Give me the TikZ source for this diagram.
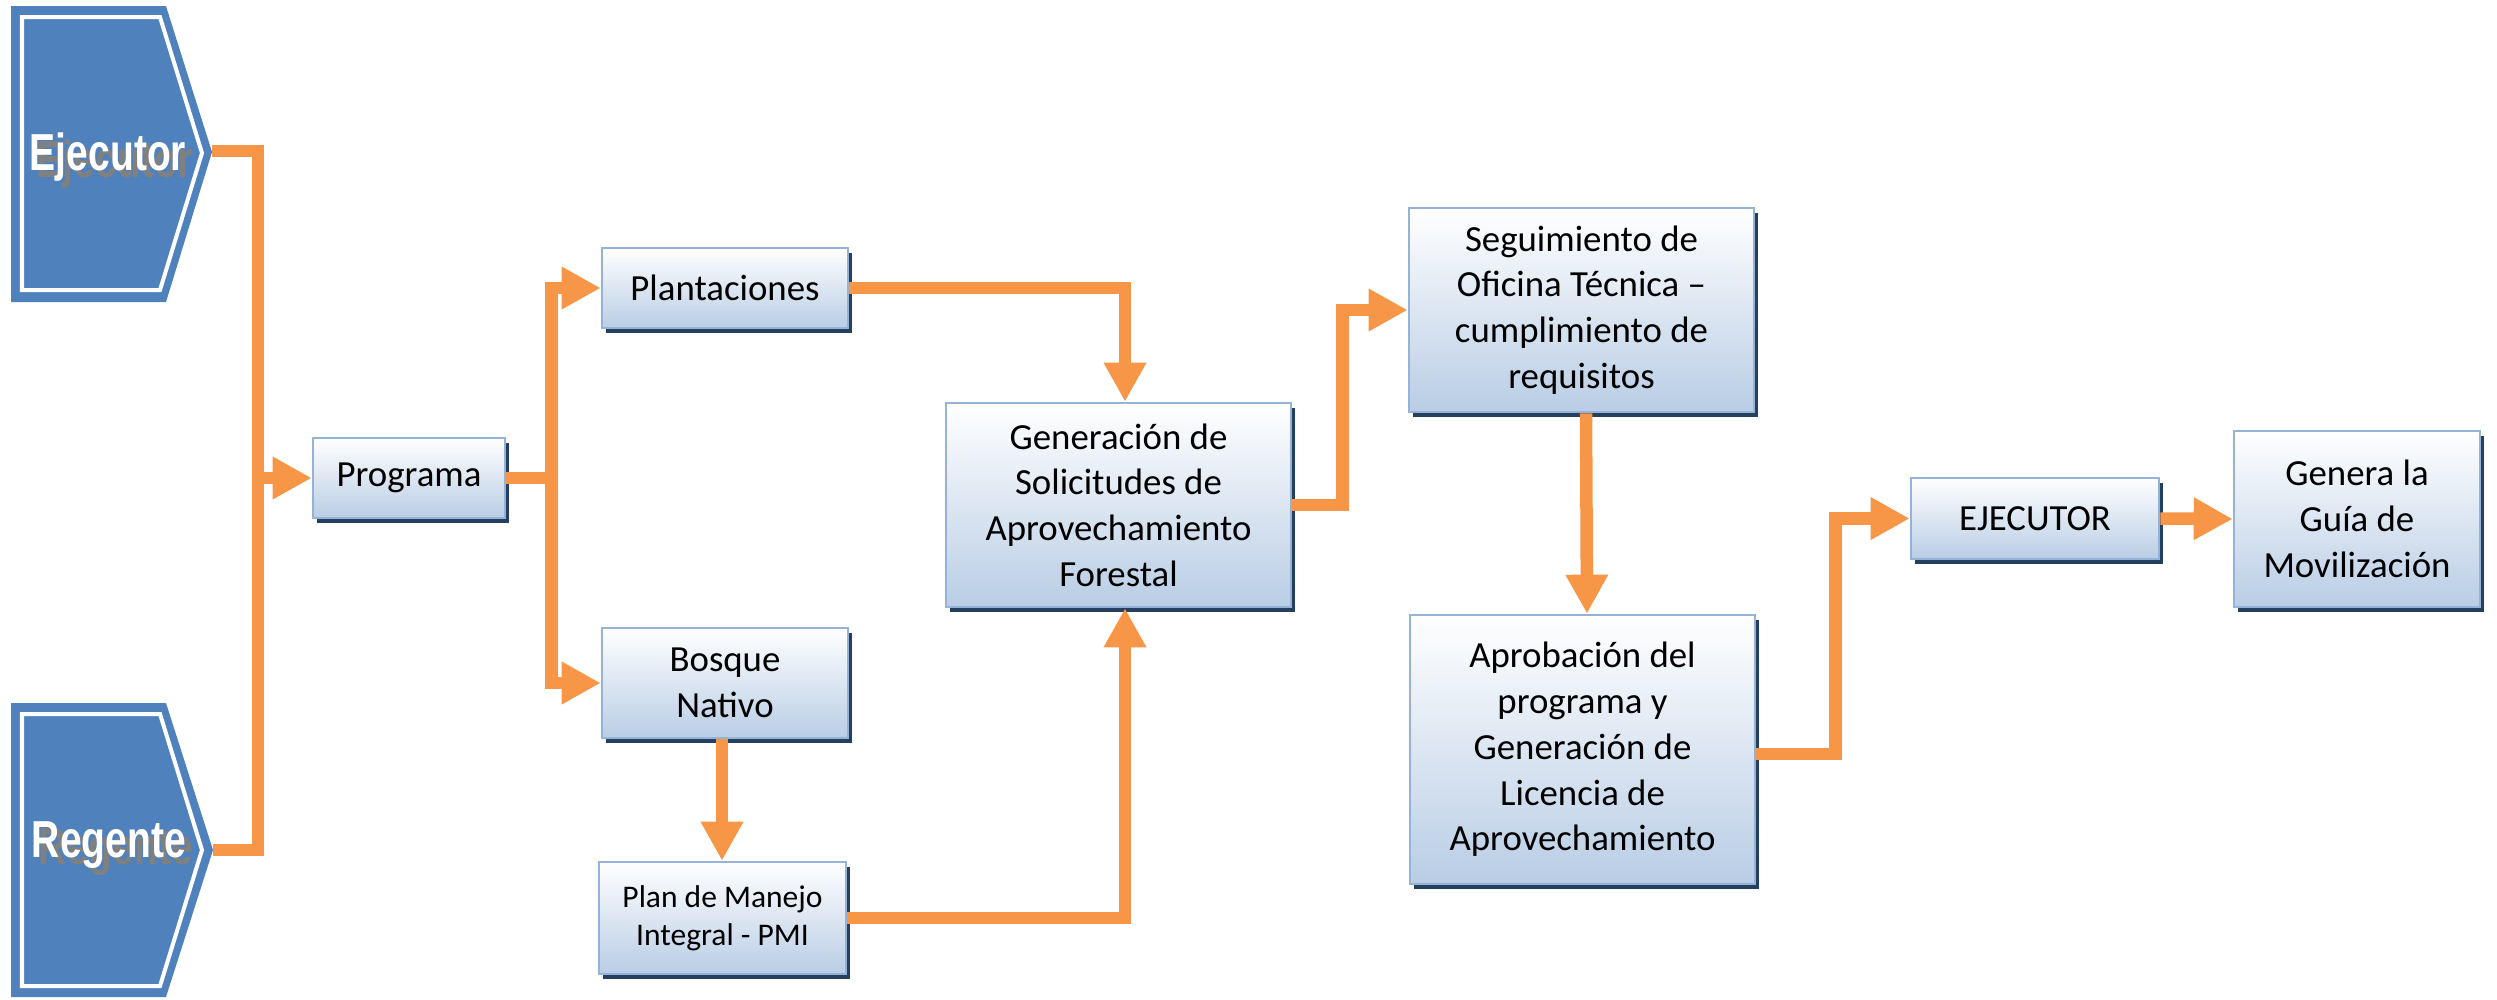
\documentclass[tikz,border=0pt]{standalone}
\usepackage{graphicx}
\usepackage{fontspec}
\setmainfont{Carlito}
\newfontfamily\arialf{Liberation Sans}
\usetikzlibrary{arrows.meta,shadows,calc}
\definecolor{sigblue}{HTML}{4F81BD}
\definecolor{connc}{HTML}{F79646}
\definecolor{boxborder}{HTML}{95B3D7}
\definecolor{boxbot}{HTML}{B9CDE5}
\definecolor{shadowc}{HTML}{243F60}
\definecolor{txtshadow}{HTML}{808080}
\tikzset{
  box/.style={draw=boxborder, line width=0.025cm, top color=white, bottom color=boxbot,
    inner sep=0pt, align=center, font=\fontsize{10.47pt}{13pt}\selectfont,
    drop shadow={shadow xshift=0.04cm, shadow yshift=-0.05cm, fill=shadowc, opacity=1}},
  smallbox/.style={box, font=\fontsize{8.96pt}{10.9pt}\selectfont},
  connector/.style={draw=connc, line width=0.125cm, line join=miter},
  arr/.style={connector, -{Triangle[length=0.39cm,width=0.40cm]}},
  sigtext/.style={text=white, inner sep=0pt, font=\arialf\bfseries\fontsize{14.8pt}{16pt}\selectfont},
  sigshadow/.style={sigtext, text=txtshadow},
  sigfill/.style={fill=sigblue},
  sigline/.style={draw=white, line width=0.04cm, line join=miter}
}
\begin{document}
\begin{tikzpicture}[x=0.01cm,y=-0.01cm]
\useasboundingbox (0,0) rectangle (2497,999);
% --- Ejecutor pentagon
\fill[sigfill] (11,6) -- (166,6) -- (212,152) -- (166,302) -- (11,302) -- cycle;
\draw[sigline] (22,17) -- (160,17) -- (202,153) -- (160,290) -- (22,290) -- cycle;
\node[sigshadow] (ejsh) at (115,164) {\scalebox{0.75}[1]{Ejecutor}};
\node[sigtext] (ejt) at (108,157) {\scalebox{0.75}[1]{Ejecutor}};
% --- Regente pentagon
\fill[sigfill] (11,703) -- (166,703) -- (213,850) -- (166,997) -- (11,997) -- cycle;
\draw[sigline] (22,714) -- (160,714) -- (202,850) -- (160,986) -- (22,986) -- cycle;
\node[sigshadow] (resh) at (116,852) {\scalebox{0.75}[1]{Regente}};
\node[sigtext] (ret) at (109,845) {\scalebox{0.75}[1]{Regente}};
\coordinate (ejtip) at (212,151);
\coordinate (regtip) at (213,850);
\coordinate (trunktop) at (258,151);
\coordinate (trunkbot) at (258,850);
% --- boxes
\node[box, minimum width=1.92cm, minimum height=0.80cm] (prog) at (409,478) {Programa};
\node[box, minimum width=2.46cm, minimum height=0.80cm] (plant) at (725,288) {Plantaciones};
\node[box, minimum width=2.46cm, minimum height=1.10cm] (bosque) at (725,683) {Bosque\\Nativo};
\node[smallbox, minimum width=2.47cm, minimum height=1.12cm] (plan) at (722.5,918) {Plan de Manejo\\Integral - PMI};
\node[box, minimum width=3.45cm, minimum height=2.04cm] (gen) at (1118.5,505) {Generación de\\Solicitudes de\\Aprovechamiento\\Forestal};
\node[box, minimum width=3.45cm, minimum height=2.04cm] (seg) at (1581.5,310) {Seguimiento de\\Oficina Técnica –\\cumplimiento de\\requisitos};
\node[box, minimum width=3.45cm, minimum height=2.69cm] (aprob) at (1582.5,749.5) {Aprobación del\\programa y\\Generación de\\Licencia de\\Aprovechamiento};
\node[box, minimum width=2.48cm, minimum height=0.81cm] (ejec) at (2035,518.5) {EJECUTOR};
\node[box, minimum width=2.46cm, minimum height=1.76cm] (genera) at (2357,519) {Genera la\\Guía de\\Movilización};
% --- connectors
\draw[connector] (ejtip) -- (trunktop) -- (trunkbot) -- (regtip);
\draw[arr] (trunktop |- prog.west) -- (prog.west);
\draw[arr] (prog.east) -- ++(45,0) |- (plant.west);
\draw[arr] (prog.east) -- ++(45,0) |- (bosque.west);
\draw[arr] (plant.east) -| ([xshift=0.065cm]gen.north);
\draw[arr] ([xshift=-0.03cm]bosque.south) -- ([xshift=-0.03cm]bosque.south |- plan.north);
\draw[arr] (plan.east) -| ([xshift=0.065cm]gen.south);
\draw[arr] (gen.east) -- ++(50,0) |- (seg.west);
\draw[arr] ([xshift=0.045cm]seg.south) -- ([xshift=0.045cm]aprob.north);
\draw[arr] ([yshift=-0.045cm]aprob.east) -- ++(79,0) |- (ejec.west);
\draw[arr] (ejec.east) -- (genera.west);
\end{tikzpicture}
\end{document}
